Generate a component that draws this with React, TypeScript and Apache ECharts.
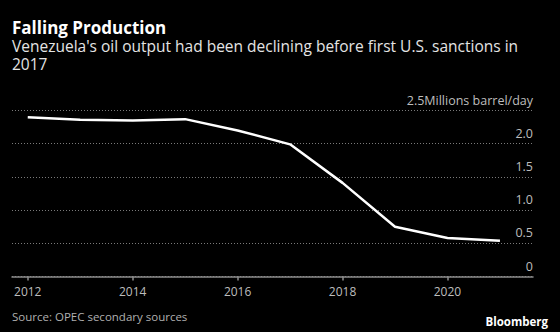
import React, { useEffect, useRef } from "react";
import * as echarts from "echarts";

const years = [2012, 2013, 2014, 2015, 2016, 2017, 2018, 2019, 2020, 2021];
const output = [2.4, 2.36, 2.35, 2.37, 2.2, 1.99, 1.41, 0.75, 0.58, 0.54];
const xTicks = [2012, 2014, 2016, 2018, 2020];
const yTicks = [0, 0.5, 1.0, 1.5, 2.0, 2.5];
const unitLabel = "Millions barrel/day";
const title = "Falling Production";
const subtitle1 = "Venezuela's oil output had been declining before first U.S. sanctions in";
const subtitle2 = "2017";
const source = "Source: OPEC secondary sources";
const brand = "Bloomberg";

const FONT = "'Open Sans', 'Liberation Sans', sans-serif";

export default function App() {
  const ref = useRef<HTMLDivElement>(null);
  useEffect(() => {
    document.body.style.margin = "0";
    document.body.style.background = "#000";
    if (!ref.current) return;
    const chart = echarts.init(ref.current, null, { renderer: "svg" });
    const yMax = yTicks[yTicks.length - 1];
    chart.setOption({
      animation: false,
      backgroundColor: "#000",
      grid: {
        left: 12,
        right: 27,
        top: 110.5,
        bottom: 55.5,
        containLabel: false,
        outerBoundsMode: "none",
      },
      xAxis: {
        type: "value",
        min: 2011.7,
        max: 2021.63,
        splitLine: { show: false },
        axisLine: { show: true, lineStyle: { color: "#8c8c8c", width: 1.5 } },
        axisTick: {
          show: true,
          customValues: xTicks,
          length: 4,
          lineStyle: { color: "#8c8c8c", width: 1.5 },
        },
        axisLabel: {
          customValues: xTicks,
          color: "#bdbdbd",
          fontFamily: FONT,
          fontSize: 12,
          margin: 9,
          formatter: (v: number) => String(v),
        },
      },
      yAxis: {
        type: "value",
        position: "right",
        min: 0,
        max: yMax,
        interval: 0.5,
        axisLine: { show: false },
        axisTick: { show: false },
        splitLine: {
          show: true,
          lineStyle: { color: "#7a7a7a", width: 1, type: [1, 2] },
        },
        axisLabel: {
          inside: true,
          margin: 0,
          color: "#bdbdbd",
          fontFamily: FONT,
          fontSize: 12.5,
          verticalAlign: "bottom",
          padding: [0, 0, 4, 0],
          formatter: (v: number) => {
            if (v === 0) return "0";
            if (v === yMax) return v.toFixed(1) + unitLabel;
            return v.toFixed(1);
          },
        },
      },
      series: [
        {
          type: "line",
          data: years.map((y, i) => [y, output[i]]),
          symbol: "none",
          lineStyle: { color: "#ffffff", width: 2.5 },
        },
      ],
      graphic: [
        {
          type: "text",
          x: 12,
          y: 27,
          style: {
            text: title,
            fill: "#ffffff",
            font: `bold 17px ${FONT}`,
            lineHeight: 18,
            verticalAlign: "middle",
          },
        },
        {
          type: "text",
          x: 12,
          y: 46,
          style: {
            text: subtitle1,
            fill: "#e4e4e4",
            font: `15.5px ${FONT}`,
            lineHeight: 17,
            verticalAlign: "middle",
          },
        },
        {
          type: "text",
          x: 12,
          y: 64,
          style: {
            text: subtitle2,
            fill: "#e4e4e4",
            font: `15.5px ${FONT}`,
            lineHeight: 17,
            verticalAlign: "middle",
          },
        },
        {
          type: "text",
          x: 12,
          y: 316,
          style: {
            text: source,
            fill: "#b0b0b0",
            font: `11.5px ${FONT}`,
            verticalAlign: "middle",
          },
        },
        {
          type: "text",
          x: 548,
          y: 321,
          style: {
            text: brand,
            fill: "#ffffff",
            font: `bold 11.5px ${FONT}`,
            align: "right",
            verticalAlign: "middle",
          },
        },
      ],
    });
    return () => chart.dispose();
  }, []);
  return <div ref={ref} style={{ width: 560, height: 332 }} />;
}
